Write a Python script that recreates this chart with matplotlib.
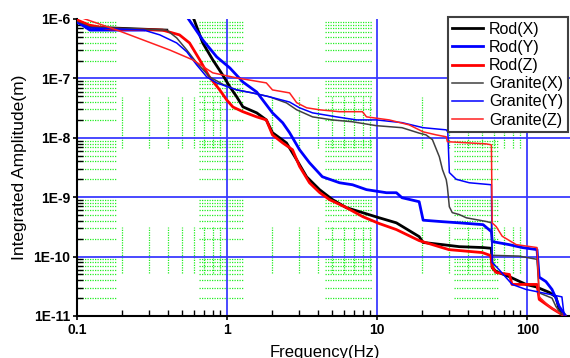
import numpy as np
import matplotlib
matplotlib.use("Agg")
import matplotlib.pyplot as plt

nan = np.nan

# ---------------- data ----------------
rodx_f = [0.1, 0.1215, 0.395, nan,
          0.57, 0.598, 0.686, 0.80, 0.93, 1.04, 1.155, 1.27, 1.57, 1.82, 2.0, 2.48, 2.9, 3.38,
          4.12, 5.03, 6.22, 7.96, 10.3, 13.4, 19.0, 20.2, 27.2, 35.2, 50.7, 57.6, 58.3, 62,
          75.7, 98, 114, 140, 155, 163, 180]
rodx_a = [9.2e-7, 7.3e-7, 6.5e-7, nan,
          1.2e-6, 1.0e-6, 3.95e-7, 2.05e-7, 1.15e-7, 7.2e-8, 4.9e-8, 3.32e-8, 2.63e-8, 2.0e-8,
          1.22e-8, 8.2e-9, 4.26e-9, 2.2e-9, 1.34e-9, 9.1e-10, 6.67e-10, 5.5e-10, 4.5e-10,
          3.7e-10, 2.17e-10, 1.73e-10, 1.59e-10, 1.47e-10, 1.42e-10, 1.38e-10, 6.5e-11, 5.6e-11,
          4.6e-11, 3.4e-11, 3.1e-11, 2.5e-11, 2.1e-11, 1.29e-11, 1.0e-11]

rody_f = [0.1, 0.1215, 0.278, nan,
          0.52, 0.545, 0.686, 0.85, 1.04, 1.27, 1.57, 1.72, 2.0, 2.34, 2.6, 3.03, 3.53, 4.3,
          5.6, 6.83, 8.47, 11.5, 13.4, 14.6, 19.0, 20.2, 27.2, 35.2, 50.7, 57.6, 58.3, 75.7,
          92.5, 116, 120, 133, 146, 155, 163, 180]
rody_a = [8.9e-7, 6.5e-7, 6.5e-7, nan,
          1.2e-6, 1.04e-6, 4.44e-7, 2.3e-7, 1.5e-7, 8.7e-8, 5.9e-8, 4.35e-8, 2.63e-8, 1.79e-8,
          1.22e-8, 6.3e-9, 3.8e-9, 2.21e-9, 1.75e-9, 1.62e-9, 1.34e-9, 1.19e-9, 1.19e-9,
          9.8e-10, 8.4e-10, 4.1e-10, 3.87e-10, 3.7e-10, 3.45e-10, 2.63e-10, 1.79e-10, 1.59e-10,
          1.42e-10, 1.31e-10, 4.5e-11, 3.8e-11, 2.8e-11, 2.0e-11, 1.45e-11, 1.0e-11]

rodz_f = [0.1, 0.12, 0.165, 0.37, 0.48, 0.56, 0.655, 0.76, 0.89, 0.99, 1.09, 1.27, 1.57, 1.82,
          2.0, 2.34, 2.72, 3.03, 3.53, 4.12, 4.8, 6.2, 8.0, 10.3, 13.4, 19, 30, 50, 57, 58.5,
          62, 76, 79, 116, 120, 146, 163, 176]
rodz_a = [9.6e-7, 7.9e-7, 6.8e-7, 6.5e-7, 5.4e-7, 3.95e-7, 2.05e-7, 1.06e-7, 6.4e-8, 4.35e-8,
          3.3e-8, 2.75e-8, 2.25e-8, 2.0e-8, 1.12e-8, 8.2e-9, 6.3e-9, 3.3e-9, 1.75e-9, 1.2e-9,
          9.1e-10, 6.7e-10, 4.7e-10, 3.6e-10, 2.85e-10, 1.86e-10, 1.31e-10, 1.17e-10, 1.04e-10,
          6.5e-11, 5.4e-11, 5.0e-11, 3.4e-11, 3.4e-11, 1.9e-11, 1.34e-11, 1.13e-11, 1.0e-11]

grax_f = [0.1, 0.1215, 0.395, 0.46, 0.537, 0.626, 0.763, 0.946, 1.155, 1.47, 1.91, 2.48, 2.9,
          3.7, 5.03, 6.83, 9.86, 14.6, 19, 21.1, 23.3, 25.9, 27.2, 28.8, 29.3, 30.2, 31.6, 35.2,
          39.2, 53.2, 57.6, 58.3, 88, 116, 120, 146, 155, 170]
grax_a = [8.9e-7, 7.3e-7, 6.5e-7, 4.8e-7, 3.0e-7, 1.82e-7, 1.06e-7, 7.8e-8, 6.4e-8, 5.7e-8,
          4.9e-8, 3.87e-8, 2.96e-8, 2.25e-8, 2.0e-8, 1.86e-8, 1.6e-8, 1.48e-8, 1.2e-8, 1.12e-8,
          9.3e-9, 4.8e-9, 2.9e-9, 1.97e-9, 1.5e-9, 6.9e-10, 5.5e-10, 5.1e-10, 4.5e-10, 3.9e-10,
          3.7e-10, 1.05e-10, 1.02e-10, 9.0e-11, 2.45e-11, 2.0e-11, 1.45e-11, 1.05e-11]

gray_f = [0.1, 0.1215, 0.278, 0.355, 0.46, 0.537, 0.626, 0.729, 0.849, 1.155, 1.47, 1.91, 2.6,
          3.03, 3.7, 5.35, 7.27, 9.86, 14.6, 20.2, 28.8, 29.5, 30.2, 33.6, 41, 57.6, 58.3, 64.9,
          79.2, 98, 122, 170, 176]
gray_a = [8.6e-7, 7.1e-7, 6.5e-7, 5.4e-7, 3.95e-7, 2.8e-7, 1.68e-7, 1.06e-7, 8.4e-8, 6.4e-8,
          5.7e-8, 4.9e-8, 4.0e-8, 3.2e-8, 2.63e-8, 2.25e-8, 2.0e-8, 2.0e-8, 1.8e-8, 1.48e-8,
          1.36e-8, 1.26e-8, 2.6e-9, 2.0e-9, 1.75e-9, 1.62e-9, 8.0e-11, 6.0e-11, 3.4e-11,
          2.8e-11, 2.5e-11, 2.1e-11, 1.0e-11]

graz_f = [0.11, 0.184, 0.414, 0.589, 0.8, 1.155, 1.82, 2.0, 2.6, 2.9, 3.38, 4.12, 5.6, 7.96,
          8.47, 12.0, 16.3, 20.2, 24.7, 28.8, 29.3, 53.2, 57.6, 58.3, 62, 68, 84.3, 116, 120,
          140, 163]
graz_a = [1.02e-6, 6.5e-7, 3.0e-7, 2.05e-7, 1.24e-7, 1.02e-7, 8.4e-8, 6.4e-8, 5.7e-8, 3.9e-8,
          3.2e-8, 2.96e-8, 2.75e-8, 2.75e-8, 2.25e-8, 2.0e-8, 1.65e-8, 1.26e-8, 1.12e-8,
          1.04e-8, 8.6e-9, 7.9e-9, 7.6e-9, 3.7e-10, 3.2e-10, 2.2e-10, 1.59e-10, 1.42e-10,
          2.1e-11, 1.45e-11, 1.13e-11]

series_labels = ["Rod(X)", "Rod(Y)", "Rod(Z)", "Granite(X)", "Granite(Y)", "Granite(Z)"]

xtick_vals = [0.1, 1, 10, 100]
xtick_labels = ["0.1", "1", "10", "100"]
ytick_vals = [1e-11, 1e-10, 1e-9, 1e-8, 1e-7, 1e-6]
ytick_labels = ["1E-11", "1E-10", "1E-9", "1E-8", "1E-7", "1E-6"]

# ---------------- style ----------------
plt.rcParams['font.family'] = ['Liberation Sans', 'DejaVu Sans']
W, H = 570, 358
fig = plt.figure(figsize=(W / 100, H / 100), dpi=100)
ax = fig.add_axes([77.3 / W, 42 / H, (572.5 - 77.3) / W, (316 - 19) / H])
ax.set_xscale('log')
ax.set_yscale('log')
ax.set_xlim(0.1, 200)
ax.set_ylim(1e-11, 1e-6)

# segmented dotted green minor grid (as rendered in the original)
green = '#22ee22'
hmin_ranges = [(0.1, 0.184), (0.645, 1.29), (4.5, 9.2), (32.6, 65)]
vmin_ranges = [(5.3e-11, 3.2e-10), (6.7e-9, 4.85e-8)]
for n in range(-11, -6):
    for k in range(2, 10):
        yv = k * 10.0 ** n
        for (x0, x1) in hmin_ranges:
            ax.plot([x0, x1], [yv, yv], color=green, lw=0.9, ls=(0, (1, 1)), zorder=1)
for n in range(-1, 3):
    for k in range(2, 10):
        xv = k * 10.0 ** n
        if xv > 200:
            continue
        for (y0, y1) in vmin_ranges:
            ax.plot([xv, xv], [y0, y1], color=green, lw=0.9, ls=(0, (1, 1)), zorder=1)

# major blue grid
gblue = '#3a3aff'
for yv in [1e-10, 1e-9, 1e-8, 1e-7]:
    ax.axhline(yv, color=gblue, lw=1.3, zorder=2)
for xv in [1, 10, 100]:
    ax.axvline(xv, color=gblue, lw=1.3, zorder=2)

ax.plot(rodx_f, rodx_a, color='black', lw=2.0, label=series_labels[0], zorder=3)
ax.plot(rody_f, rody_a, color='#0000ff', lw=2.0, label=series_labels[1], zorder=3)
ax.plot(rodz_f, rodz_a, color='#ff0000', lw=2.0, label=series_labels[2], zorder=3)
ax.plot(grax_f, grax_a, color='#404040', lw=1.1, label=series_labels[3], zorder=4)
ax.plot(gray_f, gray_a, color='#0000ff', lw=1.1, label=series_labels[4], zorder=4)
ax.plot(graz_f, graz_a, color='#ff2020', lw=1.1, label=series_labels[5], zorder=4)

for s in ['top', 'right']:
    ax.spines[s].set_visible(False)
for s in ['left', 'bottom']:
    ax.spines[s].set_linewidth(1.5)
    ax.spines[s].set_color('black')

ax.set_xticks(xtick_vals)
ax.set_xticklabels(xtick_labels, fontsize=10, fontweight='bold')
ax.set_yticks(ytick_vals)
ax.set_yticklabels(ytick_labels, fontsize=10, fontweight='bold')
ax.tick_params(which='major', direction='out', length=3, width=1.2, pad=2)
ax.tick_params(which='minor', direction='in', length=4, width=1.0)
ax.tick_params(axis='y', which='minor', labelleft=False)
ax.tick_params(axis='x', which='minor', labelbottom=False)

fig.text(325 / W, 1 - 352 / H, "Frequency(Hz)", fontsize=12, ha='center', va='center')
fig.text(20 / W, 1 - 167 / H, "Integrated Amplitude(m)", fontsize=12.5, rotation=90,
         ha='center', va='center')

leg = ax.legend(loc='upper right', bbox_to_anchor=(0.991, 1.007), borderaxespad=0,
                fontsize=11.5, frameon=True, fancybox=False, framealpha=1,
                edgecolor='#404040', handlelength=1.9, handletextpad=0.4,
                labelspacing=0.2, borderpad=0.3)
leg.get_frame().set_linewidth(1.5)
leg.set_zorder(10)

fig.savefig("out.png", dpi=100)
